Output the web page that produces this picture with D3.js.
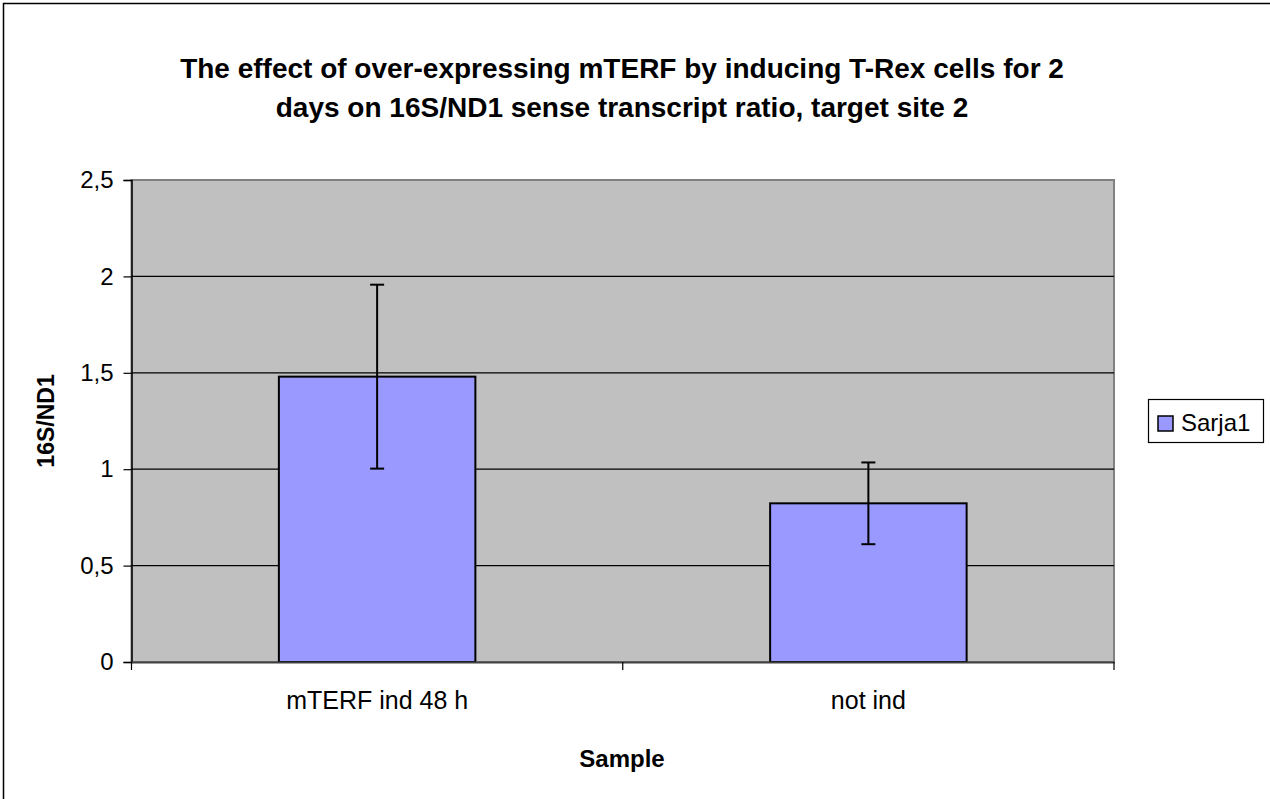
<!DOCTYPE html>
<html>
<head>
<meta charset="utf-8">
<script src="https://cdn.jsdelivr.net/npm/d3@7"></script>
<style>
  body { margin: 0; background: #fff; }
  text { font-family: "Liberation Sans", Arial, sans-serif; fill: #000; }
</style>
</head>
<body>
<div id="chart"></div>
<script>
// chart data
const categories = ["mTERF ind 48 h", "not ind"];
const values = [1.48, 0.823];
const errors = [0.477, 0.212];
const yTicks = [0, 0.5, 1, 1.5, 2, 2.5];
const seriesName = "Sarja1";
const titleLines = [
    "The effect of over-expressing mTERF by inducing T-Rex cells for 2",
    "days on 16S/ND1 sense transcript ratio, target site 2"
];

const width = 1270, height = 799;
const plot = { left: 131.5, top: 180, right: 1114, bottom: 662 };

const svg = d3.select("#chart").append("svg")
    .attr("width", width)
    .attr("height", height);

// outer chart frame (right/bottom edges fall outside the window)
svg.append("rect")
    .attr("x", 3.5).attr("y", 3.5)
    .attr("width", width).attr("height", height)
    .attr("fill", "#fff")
    .attr("stroke", "#000").attr("stroke-width", 1.5);

const x = d3.scaleBand()
    .domain(categories)
    .range([plot.left, plot.right])
    .paddingInner(0.6)
    .paddingOuter(0.3);

const y = d3.scaleLinear()
    .domain([0, 2.5])
    .range([plot.bottom, plot.top]);

// plot background
svg.append("rect")
    .attr("x", plot.left).attr("y", plot.top)
    .attr("width", plot.right - plot.left)
    .attr("height", plot.bottom - plot.top)
    .attr("fill", "#c0c0c0")
    .attr("stroke", "#808080").attr("stroke-width", 2);

// gridlines
svg.append("g")
    .selectAll("line")
    .data(yTicks.filter(d => d > 0 && d < 2.5))
    .join("line")
    .attr("x1", plot.left).attr("x2", plot.right)
    .attr("y1", d => y(d)).attr("y2", d => y(d))
    .attr("stroke", "#000").attr("stroke-width", 1.2);

// bars
svg.append("g")
    .selectAll("rect")
    .data(values)
    .join("rect")
    .attr("x", (d, i) => x(categories[i]))
    .attr("y", d => y(d))
    .attr("width", x.bandwidth())
    .attr("height", d => y(0) - y(d))
    .attr("fill", "#9999ff")
    .attr("stroke", "#000").attr("stroke-width", 2);

// error bars
const err = svg.append("g").attr("stroke", "#000").attr("stroke-width", 2);
values.forEach((v, i) => {
    const cx = x(categories[i]) + x.bandwidth() / 2;
    err.append("line")
        .attr("x1", cx).attr("x2", cx)
        .attr("y1", y(v + errors[i])).attr("y2", y(v - errors[i]));
    [v + errors[i], v - errors[i]].forEach(e => {
        err.append("line")
            .attr("x1", cx - 7).attr("x2", cx + 7)
            .attr("y1", y(e)).attr("y2", y(e));
    });
});

// y axis
const yAxis = svg.append("g")
    .attr("transform", `translate(${plot.left},0)`)
    .call(d3.axisLeft(y)
        .tickValues(yTicks)
        .tickSize(8)
        .tickPadding(10)
        .tickFormat(d => String(d).replace(".", ",")));
yAxis.select(".domain").attr("stroke", "#000").attr("stroke-width", 1.5);
yAxis.selectAll(".tick line").attr("stroke", "#000").attr("stroke-width", 1.2);
yAxis.selectAll(".tick text")
    .style("font-size", "24px")
    .attr("fill", "#000");

// x axis
const xAxis = svg.append("g")
    .attr("transform", `translate(0,${plot.bottom})`)
    .call(d3.axisBottom(x).tickSize(0).tickPadding(29));
xAxis.select(".domain").attr("stroke", "#404040").attr("stroke-width", 2);
xAxis.selectAll(".tick text")
    .style("font-size", "25px")
    .attr("fill", "#000");

// category separator ticks
const bounds = [plot.left, (plot.left + plot.right) / 2, plot.right];
svg.append("g")
    .selectAll("line")
    .data(bounds)
    .join("line")
    .attr("x1", d => d).attr("x2", d => d)
    .attr("y1", plot.bottom).attr("y2", plot.bottom + 8)
    .attr("stroke", "#000").attr("stroke-width", 1.2);

// title
svg.append("text")
    .attr("text-anchor", "middle")
    .style("font-size", "28px")
    .style("font-weight", "bold")
    .selectAll("tspan")
    .data(titleLines)
    .join("tspan")
    .attr("x", 622)
    .attr("y", (d, i) => 78 + i * 39)
    .text(d => d);

// axis titles
svg.append("text")
    .attr("transform", "translate(54,421) rotate(-90)")
    .attr("text-anchor", "middle")
    .style("font-size", "23px")
    .style("font-weight", "bold")
    .text("16S/ND1");

svg.append("text")
    .attr("x", 622).attr("y", 767)
    .attr("text-anchor", "middle")
    .style("font-size", "24px")
    .style("font-weight", "bold")
    .text("Sample");

// legend
const legend = svg.append("g").attr("transform", "translate(1148,399)");
legend.append("rect")
    .attr("x", 0.5).attr("y", 0.5)
    .attr("width", 115).attr("height", 43)
    .attr("fill", "#fff").attr("stroke", "#000").attr("stroke-width", 1.2);
legend.append("rect")
    .attr("x", 10).attr("y", 17)
    .attr("width", 15).attr("height", 15)
    .attr("fill", "#9999ff").attr("stroke", "#000").attr("stroke-width", 1.5);
legend.append("text")
    .attr("x", 33).attr("y", 32)
    .style("font-size", "24px")
    .text(seriesName);
</script>
</body>
</html>
